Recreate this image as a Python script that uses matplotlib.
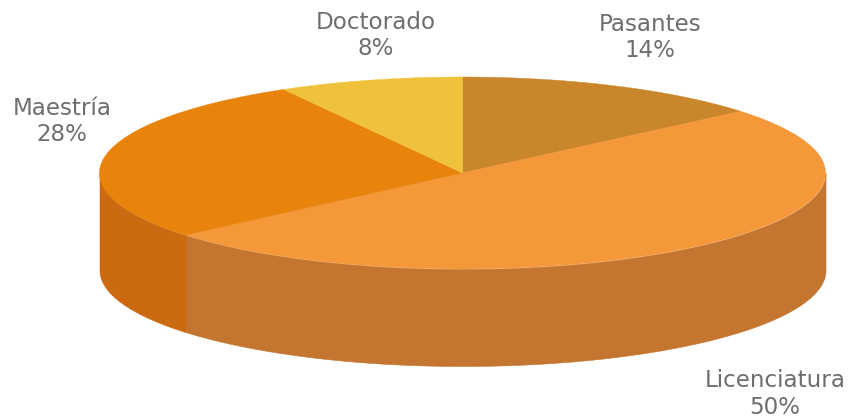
import numpy as np
import matplotlib
matplotlib.use("Agg")
import matplotlib.pyplot as plt
from matplotlib.path import Path

categories = ["Pasantes", "Licenciatura", "Maestría", "Doctorado"]
values = [13.9, 49.9, 28.0, 8.2]
top_colors = ["#C9862B", "#F4983A", "#E8830B", "#F0C23C"]
side_colors = ["#A66E22", "#C47530", "#CB6A10", "#C9A030"]
label_pos = [(650, 37.5), (775, 394), (62, 121.5), (376, 35.5)]

W, H = 851, 419
cx, cy, rx, ry, depth = 462.5, 173, 363, 96, 97

fig = plt.figure(figsize=(W / 100, H / 100), dpi=100)
ax = fig.add_axes([0, 0, 1, 1])
wedges, _ = ax.pie(values, startangle=90, counterclock=False, colors=top_colors, radius=1, center=(0, 0), frame=True)
for w in wedges:
    w.set_zorder(3)
    th = np.radians(np.linspace(w.theta1, w.theta2, 400))
    arc = np.column_stack([np.cos(th), np.sin(th)]) * w.r
    w._path = Path(np.vstack([[w.center], arc, [w.center]]), closed=True)
    w.set_edgecolor(w.get_facecolor())
    w.set_linewidth(0.3)
ax.set_aspect("auto")
ax.set_xlim(-cx / rx, (W - cx) / rx)
ax.set_ylim(-(H - cy) / ry, cy / ry)
ax.axis("off")

d = depth / ry
edges = np.concatenate([[0], np.cumsum(values)]) / sum(values) * 360
for a0, a1, c in zip(edges[:-1], edges[1:], side_colors):
    lo, hi = max(a0, 90), min(a1, 270)
    if hi > lo:
        t = np.radians(np.linspace(lo, hi, 400))
        x = np.sin(t)
        y = np.cos(t)
        ax.fill_between(x, y - d, y, facecolor=c, edgecolor=c, lw=0.4, zorder=2)


def to_data(px, py):
    return (px - cx) / rx, (cy - py) / ry


for name, val, (px, py) in zip(categories, values, label_pos):
    xd, yd = to_data(px, py)
    ax.text(xd, yd, f"{name}\n{round(val)}%", ha="center", va="center", fontsize=16.6, color="#6E6E6E", linespacing=1.2, zorder=5)

fig.savefig("out.png", dpi=100)
